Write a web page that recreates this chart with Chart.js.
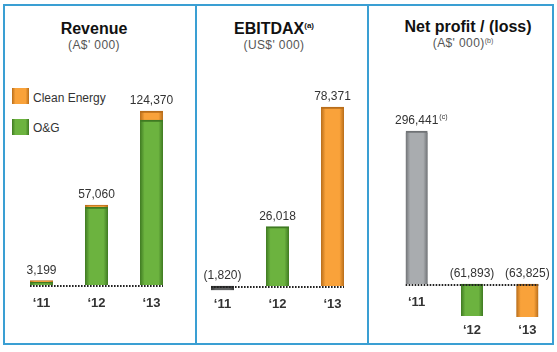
<!DOCTYPE html>
<html><head><meta charset="utf-8">
<script src="https://cdn.jsdelivr.net/npm/chart.js@4"></script>
<style>
html,body{margin:0;padding:0;background:#fff;}
body{width:557px;height:352px;position:relative;overflow:hidden;font-family:"Liberation Sans",Arial,Helvetica,sans-serif;}
canvas{position:absolute;}
.ln{position:absolute;background:#3a9fd3;z-index:5;}
.t{position:absolute;width:220px;text-align:center;font-weight:bold;font-size:16px;line-height:20px;color:#111;}
.s{position:absolute;width:220px;text-align:center;font-size:12px;line-height:14px;color:#555;letter-spacing:0.4px;}
sup{font-size:8px;line-height:0;vertical-align:6px;letter-spacing:0;}
.s sup{vertical-align:4px;font-size:7px;}
.lg{position:absolute;width:17px;height:16px;}
.lt{position:absolute;font-size:12px;line-height:14px;color:#333;}
</style></head><body>
<div class="ln" style="left:3px;top:4px;width:551px;height:2px"></div>
<div class="ln" style="left:3px;top:343px;width:551px;height:2px"></div>
<div class="ln" style="left:3px;top:4px;width:2px;height:341px"></div>
<div class="ln" style="left:195px;top:4px;width:2px;height:341px"></div>
<div class="ln" style="left:367px;top:4px;width:2px;height:341px"></div>
<div class="ln" style="left:552px;top:4px;width:2px;height:341px"></div>

<div class="t" style="left:-16px;top:19px">Revenue</div>
<div class="s" style="left:-16px;top:38px">(A$' 000)</div>
<div class="t" style="left:164px;top:19px">EBITDAX<sup>(a)</sup></div>
<div class="s" style="left:164px;top:38px">(US$' 000)</div>
<div class="t" style="left:358px;top:17px">Net profit / (loss)</div>
<div class="s" style="left:353px;top:36px">(A$' 000)<sup>(b)</sup></div>

<div class="lg" style="left:12px;top:88px;background:linear-gradient(90deg,#b86d1a,#f9a23a 20%,#f9a23a 80%,#b86d1a)"></div>
<div class="lt" style="left:33px;top:91px">Clean Energy</div>
<div class="lg" style="left:12px;top:119px;background:linear-gradient(90deg,#3f7a22,#6cb33f 20%,#6cb33f 80%,#3f7a22)"></div>
<div class="lt" style="left:33px;top:121px">O&amp;G</div>

<canvas id="c1" width="190" height="287" style="left:5px;top:55px"></canvas>
<canvas id="c2" width="172" height="287" style="left:195px;top:55px"></canvas>
<canvas id="c3" width="188" height="287" style="left:369px;top:55px"></canvas>

<script>
// ---- data ----
const categories = ['\u201811', '\u201812', '\u201813'];
const revenueOG = [2100, 55660, 117870];
const revenueCleanEnergy = [1099, 1400, 6500];
const ebitdax = [-1820, 26018, 78371];
const netProfit = [296441, -61893, -63825];
const netNotes = ['(c)', '', ''];

// ---- colours ----
const C = {
  green: ['#6cb33f', '#3f7a22'],
  orange: ['#f9a23a', '#b86d1a'],
  gray: ['#a9acaf', '#6f7275'],
  dark: ['#5f6061', '#363738']
};
const FONT = '"Liberation Sans", Arial, Helvetica, sans-serif';

function fmt(v) { return Math.abs(v).toLocaleString('en-US'); }

function pick(cols, i) { return Array.isArray(cols[0]) ? (cols[i] || cols[0]) : cols; }

function barFill(cols, w) {
  return ctx => {
    const col = pick(cols, ctx.dataIndex);
    const ch = ctx.chart, xs = ch.scales && ch.scales.x;
    if (!xs || ctx.dataIndex === undefined) return col[0];
    const cx = xs.getPixelForValue(ctx.dataIndex);
    if (!isFinite(cx)) return col[0];
    const g = ch.ctx.createLinearGradient(cx - w / 2, 0, cx + w / 2, 0);
    g.addColorStop(0, col[1]); g.addColorStop(0.2, col[0]);
    g.addColorStop(0.8, col[0]); g.addColorStop(1, col[1]);
    return g;
  };
}
function barTop(cols) {
  return ctx => pick(cols, ctx.dataIndex)[1];
}

const labelPlugin = {
  id: 'lbl',
  afterDatasetsDraw(chart, args, opts) {
    const { ctx } = chart, x = chart.scales.x, y = chart.scales.y;
    const totals = opts.totals, notes = opts.notes || [];
    const base = y.getPixelForValue(0);
    const half = opts.barW / 2;
    ctx.save();
    ctx.strokeStyle = '#222'; ctx.lineWidth = 2; ctx.setLineDash([1.6, 1.4]);
    ctx.beginPath();
    ctx.moveTo(x.getPixelForValue(0) - half, base + 1);
    ctx.lineTo(x.getPixelForValue(totals.length - 1) + half, base + 1);
    ctx.stroke();
    ctx.setLineDash([]);
    let negBottom = base + 4;
    totals.forEach(v => { if (v < 0) negBottom = Math.max(negBottom, y.getPixelForValue(v)); });
    totals.forEach((v, i) => {
      const cx = x.getPixelForValue(i);
      const txt = v < 0 ? '(' + fmt(v) + ')' : fmt(v);
      const ty = v < 0 ? base - 10 : y.getPixelForValue(v) - 10;
      ctx.fillStyle = '#333'; ctx.textAlign = 'center'; ctx.textBaseline = 'middle';
      ctx.font = '12px ' + FONT;
      ctx.fillText(txt, cx, ty);
      if (notes[i]) {
        const w = ctx.measureText(txt).width;
        ctx.font = '7px ' + FONT; ctx.textAlign = 'left';
        ctx.fillText(notes[i], cx + w / 2 + 1, ty - 4);
      }
      ctx.font = 'bold 13px ' + FONT; ctx.textAlign = 'center';
      const ly = v < 0 ? Math.max(base + 18, negBottom + 14) : base + 18;
      ctx.fillText(categories[i], cx, ly);
    });
    ctx.restore();
  }
};

function opts(pad, min, max, stacked, totals, notes, barW) {
  return {
    responsive: false, animation: false, devicePixelRatio: 1,
    layout: { padding: pad },
    plugins: { legend: { display: false }, tooltip: { enabled: false },
      lbl: { totals: totals, notes: notes, barW: barW } },
    scales: {
      x: { display: false, stacked: stacked },
      y: { display: false, stacked: stacked, min: min, max: max }
    }
  };
}

const revTotals = revenueOG.map((v, i) => v + revenueCleanEnergy[i]);
new Chart(document.getElementById('c1'), {
  type: 'bar',
  data: { labels: categories, datasets: [
    { label: 'O&G', data: revenueOG, barThickness: 23,
      backgroundColor: barFill(C.green, 23), borderColor: barTop(C.green),
      borderWidth: { top: 2, left: 0, right: 0, bottom: 0 }, borderSkipped: false },
    { label: 'Clean Energy', data: revenueCleanEnergy, barThickness: 23,
      backgroundColor: barFill(C.orange, 23), borderColor: barTop(C.orange),
      borderWidth: { top: 2, left: 0, right: 0, bottom: 0 }, borderSkipped: false }
  ]},
  options: opts({ left: 9, right: 16, top: 25, bottom: 22 }, -25000, 146500, true, revTotals, [], 23),
  plugins: [labelPlugin]
});

const ebitdaxCols = [C.dark, C.green, C.orange];
new Chart(document.getElementById('c2'), {
  type: 'bar',
  data: { labels: categories, datasets: [
    { label: 'EBITDAX', data: ebitdax, barThickness: 23,
      backgroundColor: barFill(ebitdaxCols, 23), borderColor: barTop(ebitdaxCols),
      borderWidth: { top: 2, left: 0, right: 0, bottom: 0 }, borderSkipped: false }
  ]},
  options: opts({ left: 0, right: 7, top: 25, bottom: 22 }, -14900, 90200, false, ebitdax, [], 23),
  plugins: [labelPlugin]
});

const netCols = [C.gray, C.green, C.orange];
new Chart(document.getElementById('c3'), {
  type: 'bar',
  data: { labels: categories, datasets: [
    { label: 'Net profit', data: netProfit, barThickness: 22,
      backgroundColor: barFill(netCols, 22), borderColor: barTop(netCols),
      borderWidth: { top: 2, left: 0, right: 0, bottom: 0 }, borderSkipped: false }
  ]},
  options: opts({ left: 20, right: 2, top: 25, bottom: 22 }, -69800, 395300, false, netProfit, netNotes, 22),
  plugins: [labelPlugin]
});
</script>
</body></html>
